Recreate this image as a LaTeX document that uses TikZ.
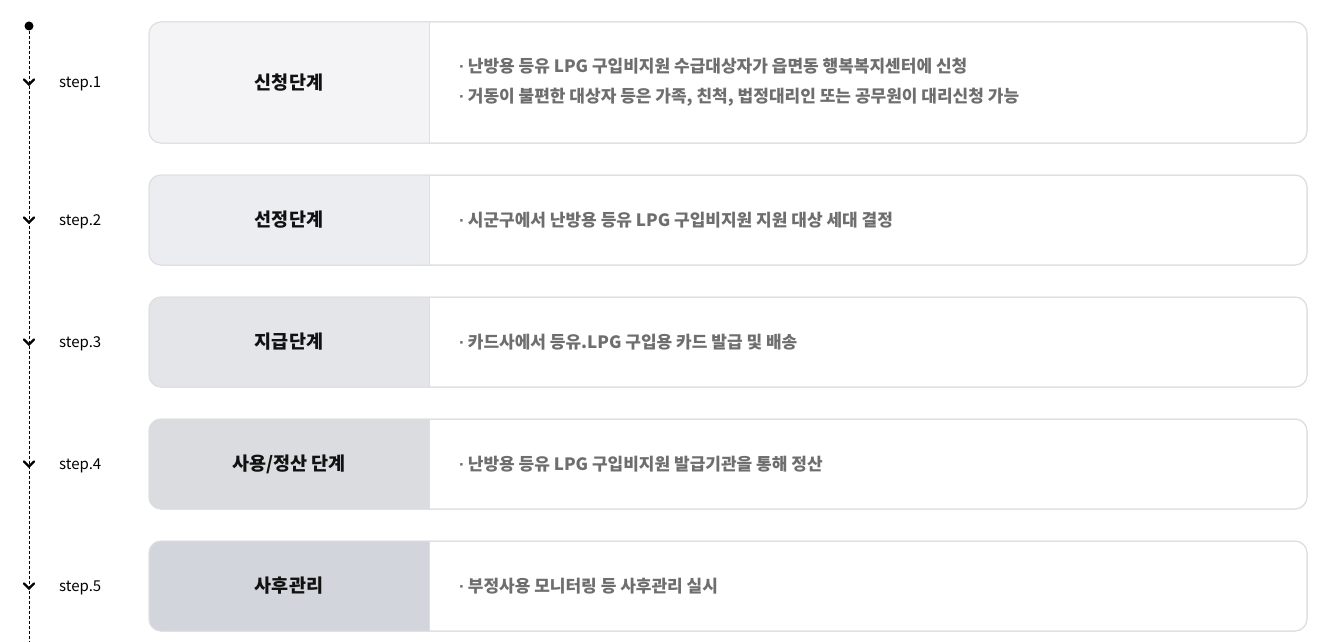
\documentclass[tikz,border=0pt]{standalone}
\usepackage{fontspec}
\setmainfont{Noto Sans CJK KR}
\newfontfamily\dotfont{Liberation Sans}
\definecolor{bordergray}{HTML}{DEDEE0}
\definecolor{descgray}{HTML}{6E6E6E}
\definecolor{titleblack}{HTML}{111111}
\definecolor{fillA}{HTML}{F4F4F6}
\definecolor{fillB}{HTML}{ECEDF0}
\definecolor{fillC}{HTML}{E4E5E9}
\definecolor{fillD}{HTML}{DBDCE0}
\definecolor{fillE}{HTML}{D2D5DC}
\newcommand{\bul}{{\dotfont\bfseries ·}\hspace{3pt}}
\tikzset{
  outerbox/.style={draw=bordergray, line width=1pt, rounded corners=12pt, fill=white, minimum width=1158pt, inner sep=0pt},
  titletext/.style={font=\fontsize{18.5}{22}\selectfont\bfseries, text=titleblack},
  desctext/.style={font=\fontsize{17}{30}\selectfont\bfseries, text=descgray, align=left, anchor=west, inner sep=0pt},
  steptext/.style={font=\fontsize{15}{18}\selectfont, text=black, anchor=west, inner sep=0pt},
  chev/.style={line width=2.2pt, line cap=round, line join=miter},
  timeline/.style={line width=0.9pt, dash pattern=on 3pt off 2pt},
}
\newcommand{\stepbox}[6]{%
  % #1 name, #2 top, #3 bottom, #4 fill, #5 title, #6 desc
  \pgfmathsetmacro{\yc}{(#2+#3)/2}
  \pgfmathsetmacro{\hh}{#3-#2}
  \node[outerbox, minimum height=\hh pt] (#1) at (728,\yc) {};
  \begin{scope}
    \clip[rounded corners=12pt] (149,#2) rectangle (1307,#3);
    \fill[#4] (149,#2) rectangle (429,#3);
  \end{scope}
  \draw[bordergray, line width=1pt, rounded corners=12pt] (149,#2) rectangle (1307,#3);
  \draw[bordergray, line width=1pt] (429,#2) -- (429,#3);
  \node[titletext] (#1t) at (289,\yc) {#5};
  \node[desctext] (#1d) at (459,\yc) {#6};
}
\newcommand{\chevron}[2]{%
  \node[steptext] (s#1) at (59,#2+1.5) {step.#1};
  \draw[chev] (24,#2-2.5) -- (29,#2+2.5) -- (34,#2-2.5);
}
\begin{document}
\begin{tikzpicture}[x=1pt, y=-1pt]
\useasboundingbox (0,0) rectangle (1341,642);
\node[circle, fill=black, inner sep=0pt, minimum size=9pt] (dot) at (29,26) {};
\coordinate (lineend) at (29,642);
\draw[timeline] (dot) -- (lineend);
\chevron{1}{82}
\chevron{2}{220}
\chevron{3}{342}
\chevron{4}{464}
\chevron{5}{586}
\stepbox{b1}{22}{143}{fillA}{신청단계}{\bul 난방용 등유 LPG 구입비지원 수급대상자가 읍면동 행복복지센터에 신청\\\bul 거동이 불편한 대상자 등은 가족, 친척, 법정대리인 또는 공무원이 대리신청 가능}
\stepbox{b2}{175}{265}{fillB}{선정단계}{\bul 시군구에서 난방용 등유 LPG 구입비지원 지원 대상 세대 결정}
\stepbox{b3}{297}{387}{fillC}{지급단계}{\bul 카드사에서 등유.LPG 구입용 카드 발급 및 배송}
\stepbox{b4}{419}{509}{fillD}{사용/정산 단계}{\bul 난방용 등유 LPG 구입비지원 발급기관을 통해 정산}
\stepbox{b5}{541}{631}{fillE}{사후관리}{\bul 부정사용 모니터링 등 사후관리 실시}
\end{tikzpicture}
\end{document}
